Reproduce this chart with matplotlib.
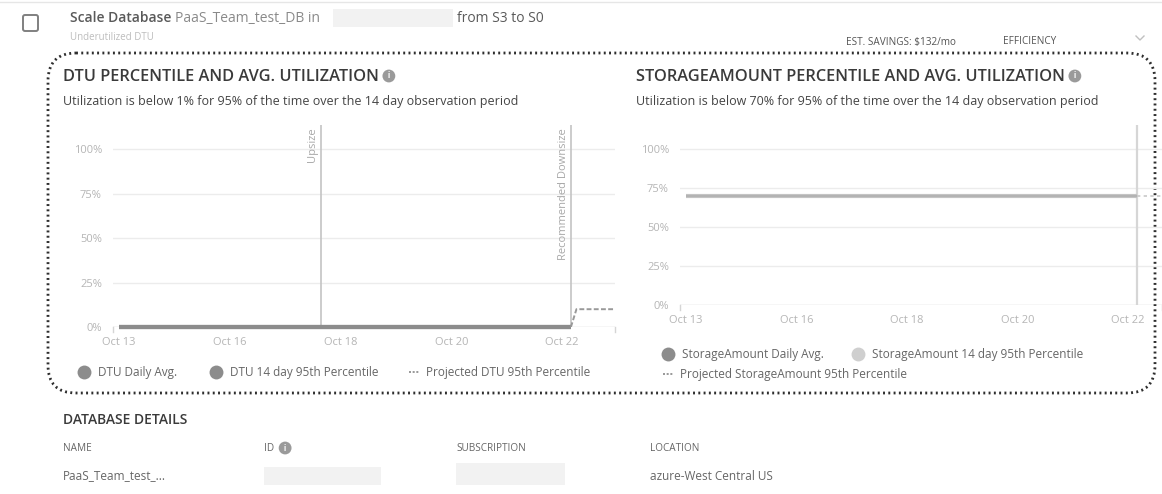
import matplotlib
matplotlib.use("Agg")
import matplotlib.pyplot as plt
from matplotlib.patches import FancyBboxPatch, Rectangle
from matplotlib.lines import Line2D

plt.rcParams['font.family'] = ['Open Sans', 'DejaVu Sans']

# ---- data ----
date_labels = ['Oct 13', 'Oct 16', 'Oct 18', 'Oct 20', 'Oct 22']
day_pos = [0, 1, 2, 3, 4, 4.08]
dtu_daily_avg = [0, 0, 0, 0, 0, 0]
dtu_p95 = [0, 0, 0, 0, 0, 0]
dtu_proj_x = [4.08, 4.13, 4.48]
dtu_proj = [0, 10, 10]
upsize_pos = 1.82
downsize_pos = 4.08

storage_daily_avg = [70, 70, 70, 70, 70, 70]
storage_p95 = [70, 70, 70, 70, 70, 70]
storage_proj_x = [4.08, 4.31]
storage_proj = [70, 70]

y_ticks = [0, 25, 50, 75, 100]
y_labels = ['0%', '25%', '50%', '75%', '100%']

W, H = 1162, 494
fig = plt.figure(figsize=(W / 100, H / 100), dpi=100)
fig.patch.set_facecolor('white')

# background axes in pixel coordinates
bg = fig.add_axes([0, 0, 1, 1])
bg.set_xlim(0, W)
bg.set_ylim(H, 0)
bg.axis('off')
renderer = fig.canvas.get_renderer()


def rect(x0, y0, x1, y1):
    return [x0 / W, 1 - y1 / H, (x1 - x0) / W, (y1 - y0) / H]


def right_end(t):
    # x pixel where a text ends
    return t.get_window_extent(renderer).x1


def info_icon(x, y):
    bg.text(x, y, 'i', fontsize=5.5, color='white', weight='bold', ha='center', va='center',
            bbox=dict(boxstyle='circle,pad=0.25', fc='#9a9a9a', ec='none'))


# header
bg.plot([0, W], [2, 2], color='#e6e6e6', lw=1)
bg.add_patch(FancyBboxPatch((23, 15), 15, 16, boxstyle='round,pad=0,rounding_size=2',
                            fc='white', ec='#808080', lw=1.4))
t = bg.text(70, 18, 'Scale Database', fontsize=10, weight='semibold', color='#5a5a5a', va='center')
t = bg.text(right_end(t) + 4, 18, 'PaaS_Team_test_DB in', fontsize=10, color='#8a8a8a', va='center')
bg.add_patch(Rectangle((333, 9), 120, 18, fc='#f2f2f2', ec='none'))
bg.text(457, 18, 'from S3 to S0', fontsize=10, color='#5a5a5a', va='center')
bg.text(70, 37, 'Underutilized DTU', fontsize=7, color='#bdbdbd', va='center')
bg.text(846, 42, 'EST. SAVINGS: $132/mo', fontsize=7.2, color='#555555', va='center')
bg.text(1003, 42, 'EFFICIENCY', fontsize=7.2, color='#555555', va='center')
bg.plot([1136, 1140, 1144], [36, 40, 36], color='#c0c0c0', lw=1)

# dotted rounded frame
bg.add_patch(FancyBboxPatch((48, 53), 1107, 340, boxstyle='round,pad=0,rounding_size=28',
                            fc='none', ec='#2e2e2e', lw=2, ls=(0, (0.7, 1.2))))

# chart titles
for x0, title, sub in [
        (63, 'DTU PERCENTILE AND AVG. UTILIZATION',
         'Utilization is below 1% for 95% of the time over the 14 day observation period'),
        (636, 'STORAGEAMOUNT PERCENTILE AND AVG. UTILIZATION',
         'Utilization is below 70% for 95% of the time over the 14 day observation period')]:
    t = bg.text(x0, 77, title, fontsize=11.8, weight='semibold', color='#3a3a3a', va='center')
    info_icon(right_end(t) + 10, 76)
    bg.text(x0, 101, sub, fontsize=9, color='#444444', va='center')


def style_axes(ax, xlim, ylim):
    ax.set_xlim(*xlim)
    ax.set_ylim(*ylim)
    ax.patch.set_alpha(0)
    for s in ax.spines.values():
        s.set_visible(False)
    ax.set_yticks(y_ticks)
    ax.set_yticklabels(y_labels)
    ax.set_xticks(range(len(date_labels)))
    ax.set_xticklabels(date_labels)
    ax.tick_params(length=0, labelsize=8, labelcolor='#b5b5b5', pad=8)
    ax.tick_params(axis='x', pad=7)
    for v in y_ticks[1:]:
        ax.axhline(v, color='#ececec', lw=1, zorder=0)
    ax.axhline(0, color='#d5d5d5', lw=1, zorder=0)
    ax.plot([xlim[0], xlim[0]], [0, -ylim[1] * 0.025], color='#d5d5d5', lw=1, clip_on=False)
    ax.plot([xlim[1], xlim[1]], [0, -ylim[1] * 0.025], color='#d5d5d5', lw=1, clip_on=False)


# left chart
ax1 = fig.add_axes(rect(113, 125, 615, 327))
style_axes(ax1, (-0.054, 4.478), (0, 113.5))
for pos, label in [(upsize_pos, 'Upsize'), (downsize_pos, 'Recommended Downsize')]:
    ax1.axvline(pos, color='#c4c4c4', lw=1.2, zorder=1)
    ax1.annotate(label, xy=(pos, 113.5), xytext=(-1.5, -2), textcoords='offset points',
                 rotation=90, ha='right', va='top', fontsize=8, color='#a8a8a8')
ax1.plot(day_pos, dtu_p95, color='#8c8c8c', lw=3, solid_capstyle='butt', clip_on=False, zorder=3)
ax1.plot(day_pos, dtu_daily_avg, color='#8c8c8c', lw=3, solid_capstyle='butt', clip_on=False, zorder=3)
ax1.plot(dtu_proj_x, dtu_proj, color='#999999', lw=1.4, ls=(0, (2.5, 1.2)), zorder=3)

# right chart
ax2 = fig.add_axes(rect(680, 125, 1162, 305))
style_axes(ax2, (-0.054, 4.31), (0, 115.4))
ax2.axvline(downsize_pos, color='#d6d6d6', lw=1.6, zorder=1)
ax2.plot(day_pos, storage_p95, color='#c4c4c4', lw=3, solid_capstyle='butt', zorder=3)
ax2.plot(day_pos, storage_daily_avg, color='#b0b0b0', lw=1.2, solid_capstyle='butt', zorder=3)
ax2.plot(storage_proj_x, storage_proj, color='#c8c8c8', lw=1.2, ls=(0, (2, 2)), zorder=3)


def legend_dot(x, y, color, text):
    bg.add_line(Line2D([x], [y], marker='o', ms=10, color=color, mec='none'))
    bg.text(x + 14, y, text, fontsize=8.5, color='#666666', va='center')


def legend_dash(x, y, text):
    bg.plot([x - 5, x + 5], [y, y], color='#888888', lw=1.2, ls=(0, (1.2, 1)))
    bg.text(x + 12, y, text, fontsize=8.5, color='#666666', va='center')


legend_dot(84, 372, '#8c8c8c', 'DTU Daily Avg.')
legend_dot(216, 372, '#8c8c8c', 'DTU 14 day 95th Percentile')
legend_dash(414, 372, 'Projected DTU 95th Percentile')
legend_dot(668, 354, '#8c8c8c', 'StorageAmount Daily Avg.')
legend_dot(858, 354, '#cfcfcf', 'StorageAmount 14 day 95th Percentile')
legend_dash(668, 374, 'Projected StorageAmount 95th Percentile')

# database details
bg.text(63, 420, 'DATABASE DETAILS', fontsize=10, weight='semibold', color='#3a3a3a', va='center')
bg.text(63, 448, 'NAME', fontsize=7.2, color='#666666', va='center')
t = bg.text(264, 448, 'ID', fontsize=7.2, color='#666666', va='center')
info_icon(right_end(t) + 11, 448)
bg.text(456, 448, 'SUBSCRIPTION', fontsize=7.2, color='#666666', va='center')
bg.text(650, 448, 'LOCATION', fontsize=7.2, color='#666666', va='center')
bg.text(63, 476, 'PaaS_Team_test_...', fontsize=8.5, color='#666666', va='center')
bg.add_patch(Rectangle((264, 467), 117, 18, fc='#f2f2f2', ec='none'))
bg.add_patch(Rectangle((456, 463), 109, 22, fc='#f2f2f2', ec='none'))
bg.text(650, 476, 'azure-West Central US', fontsize=8.5, color='#666666', va='center')

fig.savefig('out.png', dpi=100)
